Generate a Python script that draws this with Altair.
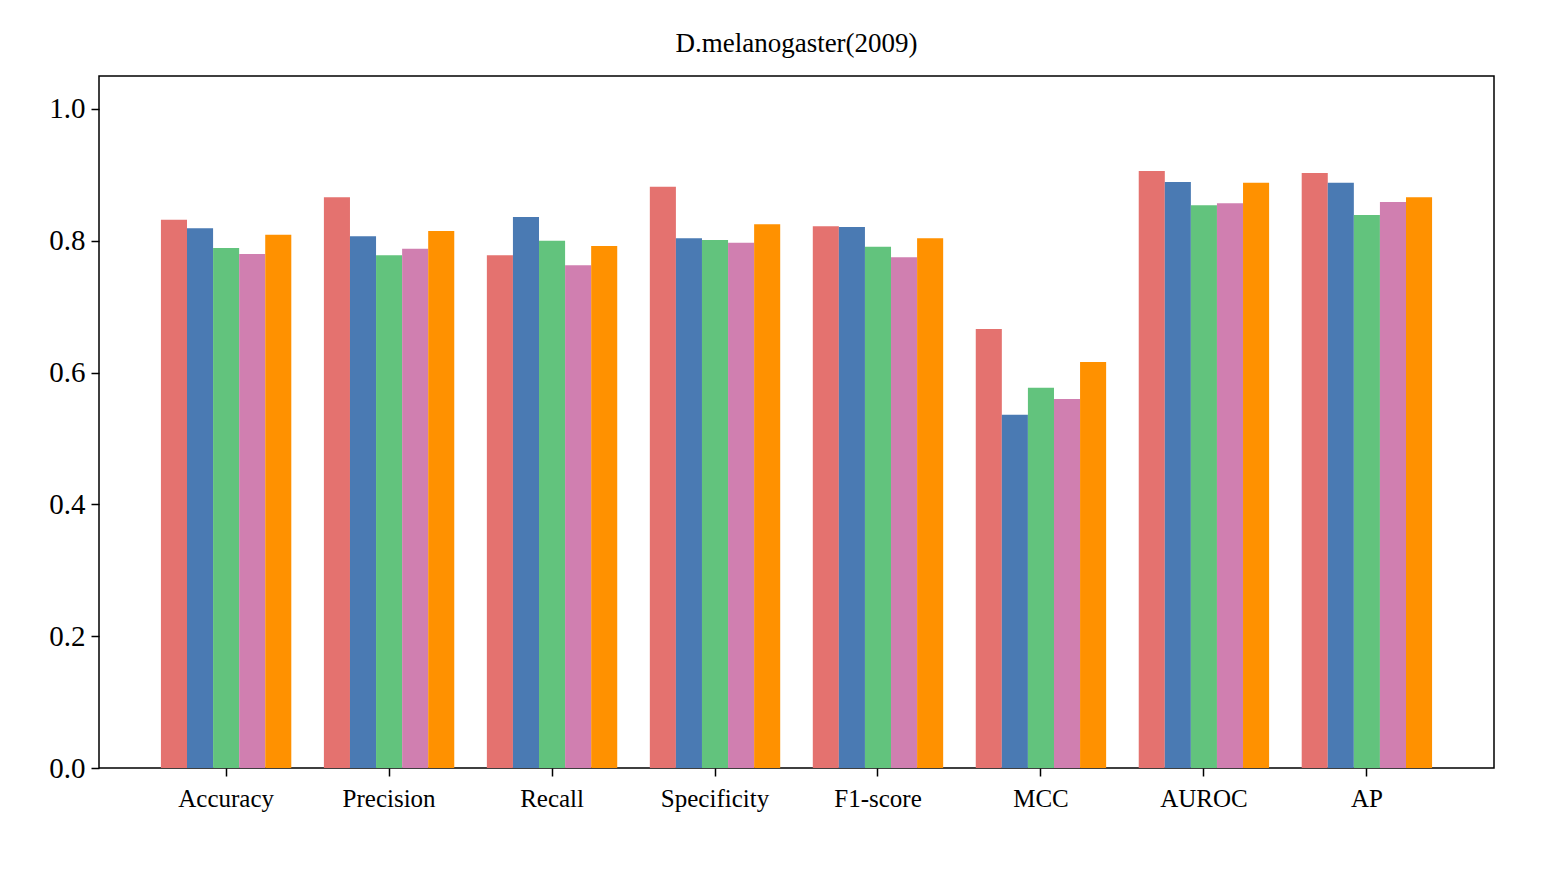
import altair as alt
import pandas as pd

metrics = ["Accuracy", "Precision", "Recall", "Specificity", "F1-score", "MCC", "AUROC", "AP"]
models = ["M1", "M2", "M3", "M4", "M5"]
colors = ["#e4726f", "#4a7ab3", "#62c37d", "#d07fb0", "#ff9100"]

m1 = [0.832, 0.866, 0.778, 0.882, 0.822, 0.666, 0.906, 0.903]
m2 = [0.819, 0.807, 0.836, 0.804, 0.821, 0.536, 0.889, 0.888]
m3 = [0.789, 0.778, 0.800, 0.801, 0.791, 0.577, 0.854, 0.839]
m4 = [0.780, 0.788, 0.763, 0.797, 0.775, 0.560, 0.857, 0.859]
m5 = [0.809, 0.815, 0.792, 0.825, 0.804, 0.616, 0.888, 0.866]

rows = []
for name, vals in zip(models, [m1, m2, m3, m4, m5]):
    for m, v in zip(metrics, vals):
        rows.append({"metric": m, "model": name, "value": v})
df = pd.DataFrame(rows)

chart = alt.Chart(df, title="D.melanogaster(2009)").mark_bar().encode(
    x=alt.X("metric:N", sort=metrics, title=None,
            scale=alt.Scale(paddingInner=0.2, paddingOuter=0.38),
            axis=alt.Axis(labelAngle=0, labelFontSize=25, labelPadding=10)),
    xOffset=alt.XOffset("model:N", sort=models),
    y=alt.Y("value:Q", title=None, scale=alt.Scale(domain=[0, 1.05], nice=False),
            axis=alt.Axis(values=[0, 0.2, 0.4, 0.6, 0.8, 1.0], format=".1f",
                          labelFontSize=29, labelPadding=6, grid=False)),
    color=alt.Color("model:N", sort=models, legend=None,
                    scale=alt.Scale(domain=models, range=colors)),
).properties(width=1395, height=692,
             padding={"left": 40, "top": 22, "right": 5, "bottom": 5})

chart = chart.configure_view(stroke="black", strokeWidth=1.5).configure_axis(
    domain=False, tickColor="black", tickSize=8, tickWidth=1.5,
    labelFont="Liberation Serif", labelColor="black",
).configure_title(font="Liberation Serif", fontSize=27, fontWeight="normal",
                  color="black", offset=18)

chart.save("out.html", embed_options={"renderer": "svg", "actions": False})
